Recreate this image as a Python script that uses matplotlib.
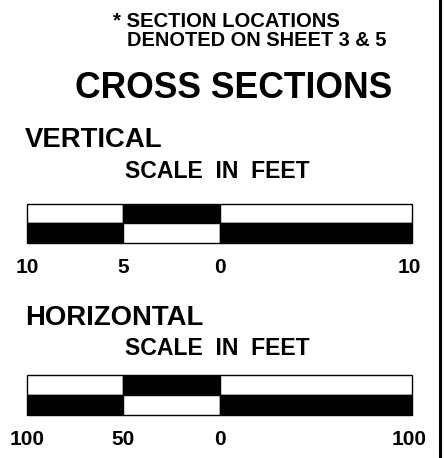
import matplotlib
matplotlib.use("Agg")
from matplotlib import pyplot as plt
from matplotlib import transforms

W, H = 444, 458
DPI = 100

# scale bar break points (feet) and the numbers printed under them
VERT_EDGES = [-10, -5, 0, 10]
VERT_LABELS = ['10', '5', '0', '10']
HORZ_EDGES = [-100, -50, 0, 100]
HORZ_LABELS = ['100', '50', '0', '100']

# alternating fill of the two rows of each bar
TOP_COLORS = ['white', 'black', 'white']
BOTTOM_COLORS = ['black', 'white', 'black']

plt.rcParams['font.family'] = ['Liberation Sans', 'DejaVu Sans']
plt.rcParams['font.weight'] = 'bold'

fig = plt.figure(figsize=(W / DPI, H / DPI), dpi=DPI)

# background axes in pixel units for the free text
bg = fig.add_axes([0, 0, 1, 1])
bg.set_xlim(0, W)
bg.set_ylim(H, 0)
bg.axis('off')


def scale_bar(top, height, edges, labels):
    ax = fig.add_axes([27 / W, 1 - (top + height) / H, 385 / W, height / H])
    lefts = edges[:-1]
    widths = [b - a for a, b in zip(edges[:-1], edges[1:])]
    for y, colors in ((1.5, TOP_COLORS), (0.5, BOTTOM_COLORS)):
        bars = ax.barh(y, widths, left=lefts, height=1, color=colors,
                       edgecolor='black', linewidth=1)
        for b in bars:
            b.set_clip_on(False)
    ax.set_xlim(edges[0], edges[-1])
    ax.set_ylim(0, 2)
    ax.set_xticks(edges)
    ax.set_xticklabels(labels, fontsize=15, fontweight='bold')
    ax.tick_params(axis='x', length=0, pad=11)
    ax.set_yticks([])
    for s in ax.spines.values():
        s.set_visible(False)
    # last number sits a little left of the bar end
    last = ax.get_xticklabels()[-1]
    last.set_transform(last.get_transform()
                       + transforms.ScaledTranslation(-2.5 / DPI, 0, fig.dpi_scale_trans))
    return ax


bg.text(113, 27, '* SECTION LOCATIONS', fontsize=14.6, fontweight='bold', va='baseline')
bg.text(127, 46, 'DENOTED ON SHEET 3 & 5', fontsize=14.4, fontweight='bold', va='baseline')
bg.text(75, 98, 'CROSS SECTIONS', fontsize=25.6, fontweight='bold', va='baseline')

bg.text(25, 147, 'VERTICAL', fontsize=19.8, fontweight='bold', va='baseline')
bg.text(125, 178, 'SCALE  IN  FEET', fontsize=16.6, fontweight='bold', va='baseline')
scale_bar(204, 39, VERT_EDGES, VERT_LABELS)

bg.text(25, 325, 'HORIZONTAL', fontsize=19.8, fontweight='bold', va='baseline')
bg.text(125, 355, 'SCALE  IN  FEET', fontsize=16.6, fontweight='bold', va='baseline')
scale_bar(375, 40, HORZ_EDGES, HORZ_LABELS)

# sheet border on the right
bg.axvline(439.5, color='black', linewidth=2.2)

fig.savefig('out.png', dpi=DPI)
